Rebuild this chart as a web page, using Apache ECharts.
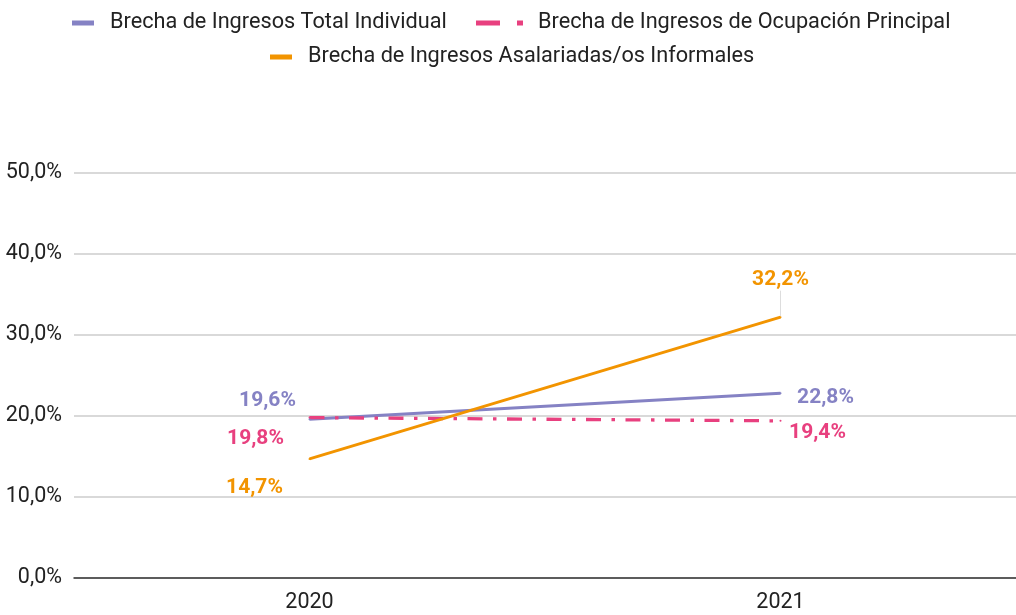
<!DOCTYPE html>
<html>
<head>
<meta charset="utf-8">
<script src="https://cdn.jsdelivr.net/npm/echarts@6/dist/echarts.min.js"></script>
<style>
html, body { margin: 0; padding: 0; background: #fff; }
#main { width: 1016px; height: 615px; }
</style>
</head>
<body>
<div id="main"></div>
<script>
var years = ['2020', '2021'];
var totalIndividual = [19.6, 22.8];
var ocupacionPrincipal = [19.8, 19.4];
var asalariadasInformales = [14.7, 32.2];
var yTicks = [0, 10, 20, 30, 40, 50];

var nameTotal = 'Brecha de Ingresos Total Individual';
var nameOcup = 'Brecha de Ingresos de Ocupación Principal';
var nameAsal = 'Brecha de Ingresos Asalariadas/os Informales';

var cPurple = '#8582c4';
var cPink = '#e8407f';
var cOrange = '#f29400';

function fmt(v) {
	return v.toFixed(1).replace('.', ',') + '%';
}

// arma los datos con su etiqueta desplazada
function buildData(values, offsets, extra) {
	var out = [];
	for (var i = 0; i < values.length; i++) {
		var item = { value: values[i], label: { offset: offsets[i] } };
		if (extra && extra[i]) {
			item.labelLine = extra[i];
		}
		out.push(item);
	}
	return out;
}

function labelStyle(color) {
	return {
		show: true,
		position: 'inside',
		align: 'center',
		verticalAlign: 'middle',
		color: color,
		fontFamily: 'Roboto',
		fontWeight: 'bold',
		fontSize: 21,
		formatter: function (p) { return fmt(p.value); }
	};
}

var legendText = { color: '#222', fontFamily: 'Roboto', fontSize: 21.7 };

// iconos: el punto minúsculo al final solo deja espacio antes del texto
var iconSolid = 'path://M0,0h22v5h-22zM33,2.5h0.01v0.01h-0.01z';
var iconDashDot = 'path://M0,0h24v5h-24zM41,0h6v5h-6zM57,2.5h0.01v0.01h-0.01z';

var chart = echarts.init(document.getElementById('main'));

var option = {
	animation: false,
	legend: [{
		left: 67, top: 7,
		itemWidth: 33, itemHeight: 5,
		itemGap: 0,
		icon: iconSolid,
		textStyle: legendText,
		data: [nameTotal]
	}, {
		left: 471, top: 7,
		itemWidth: 57, itemHeight: 5,
		itemGap: 0,
		icon: iconDashDot,
		textStyle: legendText,
		data: [nameOcup]
	}, {
		left: 265, top: 41,
		itemWidth: 33, itemHeight: 5,
		itemGap: 0,
		icon: iconSolid,
		textStyle: legendText,
		data: [nameAsal]
	}],
	grid: {
		left: 74,
		right: 0,
		top: 173,
		bottom: 37
	},
	xAxis: {
		type: 'category',
		data: years,
		boundaryGap: true,
		axisLine: { lineStyle: { color: '#333', width: 1.5 } },
		axisTick: { show: false },
		axisLabel: { color: '#222', fontFamily: 'Roboto', fontSize: 21.5, margin: 14 }
	},
	yAxis: {
		type: 'value',
		min: yTicks[0],
		max: yTicks[yTicks.length - 1],
		interval: 10,
		axisLine: { show: false },
		axisTick: { show: false },
		splitLine: { lineStyle: { color: '#ccc', width: 1.5 } },
		axisLabel: {
			color: '#222', fontFamily: 'Roboto', fontSize: 21.5, margin: 12,
			formatter: function (v) { return fmt(v); }
		}
	},
	series: [{
		name: nameTotal,
		type: 'line',
		symbol: 'circle',
		symbolSize: 2,
		itemStyle: { color: cPurple },
		lineStyle: { color: cPurple, width: 3 },
		label: labelStyle(cPurple),
		data: buildData(totalIndividual, [[-42, -18], [45, 4]])
	}, {
		name: nameOcup,
		type: 'line',
		symbol: 'circle',
		symbolSize: 2,
		itemStyle: { color: cPink },
		lineStyle: { color: cPink, width: 3.3, type: [15, 10.5, 3.5, 10.5] },
		label: labelStyle(cPink),
		data: buildData(ocupacionPrincipal, [[-54, 21], [37, 12]])
	}, {
		name: nameAsal,
		type: 'line',
		symbol: 'circle',
		symbolSize: 2,
		itemStyle: { color: cOrange },
		lineStyle: { color: cOrange, width: 3 },
		label: labelStyle(cOrange),
		data: buildData(asalariadasInformales, [[-55, 29], [0, -37]],
			[null, { show: true, lineStyle: { color: '#ddd', width: 1 } }])
	}]
};

chart.setOption(option);
</script>
</body>
</html>
